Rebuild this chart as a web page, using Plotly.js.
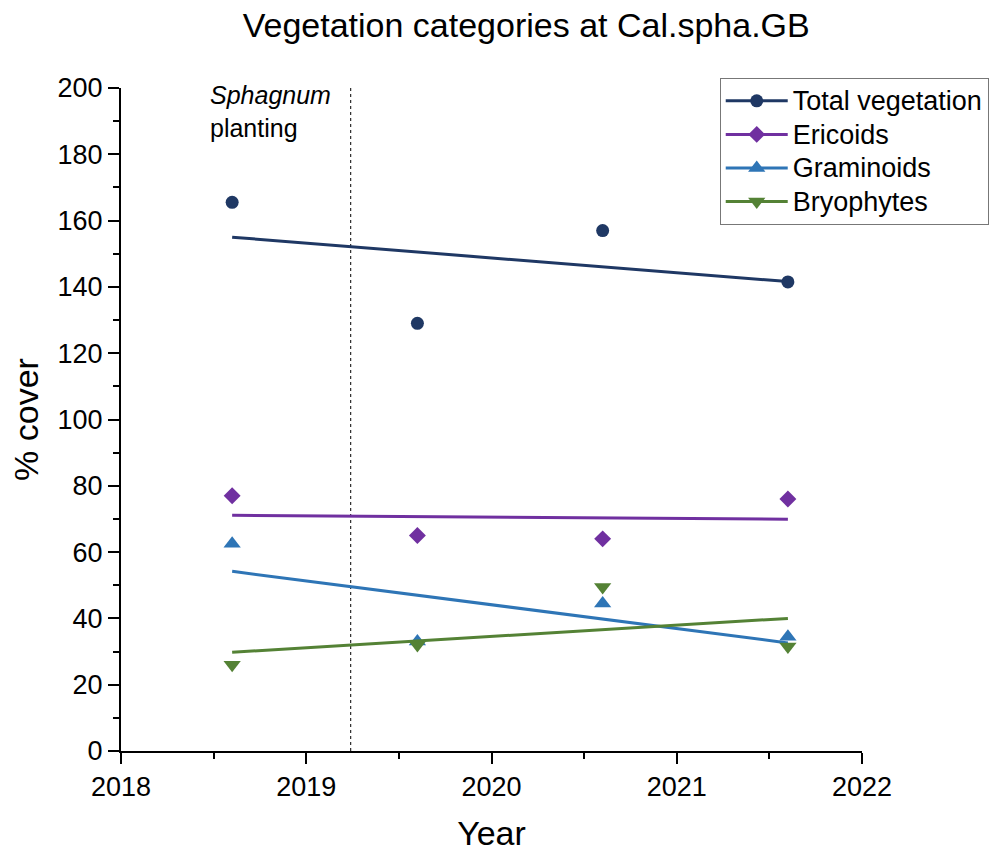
<!DOCTYPE html>
<html>
<head>
<meta charset="utf-8">
<script src="https://cdn.plot.ly/plotly-3.0.1.min.js"></script>
<style>html,body{margin:0;padding:0;background:#fff}#chart{width:991px;height:852px}</style>
</head>
<body>
<div id="chart"></div>
<script>
// Data
const years = [2018.6, 2019.6, 2020.6, 2021.6];
const totalVeg = [165.5, 129, 157, 141.5];
const ericoids = [77, 65, 64, 76];
const graminoids = [62.5, 33, 44.5, 34.5];
const bryophytes = [26, 32, 49.5, 31.5];
// Linear trend end points
const trendX = [2018.6, 2021.6];
const totalTrend = [155, 141.6];
const ericoidsTrend = [71.1, 69.9];
const graminoidsTrend = [54.2, 32.6];
const bryophytesTrend = [29.8, 40];
const plantingYear = 2019.24;
const seriesNames = ['Total vegetation', 'Ericoids', 'Graminoids', 'Bryophytes'];
const xTickVals = [2018, 2019, 2020, 2021, 2022];
const xTickText = ['2018', '2019', '2020', '2021', '2022'];

const colors = ['#1F3864', '#7030A0', '#2E75B6', '#548235'];
const symbols = ['circle', 'diamond', 'triangle-up', 'triangle-down'];
const sizes = [13, 13, 15, 15];
const vals = [totalVeg, ericoids, graminoids, bryophytes];
const trends = [totalTrend, ericoidsTrend, graminoidsTrend, bryophytesTrend];

const traces = [];
traces.push({x:[plantingYear, plantingYear], y:[0, 200], mode:'lines', line:{color:'#000', width:1, dash:'dot'}, showlegend:false, hoverinfo:'skip'});
for (let i = 0; i < 4; i++) {
  traces.push({x: trendX, y: trends[i], mode:'lines', line:{color:colors[i], width:3}, showlegend:false, hoverinfo:'skip'});
  traces.push({x: years, y: vals[i], mode:'markers', marker:{color:colors[i], symbol:symbols[i], size:sizes[i]}, showlegend:false});
  traces.push({x:[null], y:[null], mode:'lines+markers', name: '<span style="font-size:27px">' + seriesNames[i] + '</span>', line:{color:colors[i], width:3}, marker:{color:colors[i], symbol:symbols[i], size:sizes[i]}, showlegend:true});
}

const layout = {
  width: 991, height: 852,
  margin: {l:121, r:129, t:88, b:101, autoexpand:false},
  paper_bgcolor:'#fff', plot_bgcolor:'#fff',
  font: {family:'Arial, Liberation Sans, sans-serif', color:'#000', size:27},
  title: {text:'Vegetation categories at Cal.spha.GB', font:{size:34}, x:0.531, xanchor:'center', xref:'container', y:0.971, yanchor:'middle'},
  showlegend: true,
  legend: {x:0.808, y:1.015, xanchor:'left', yanchor:'top', bordercolor:'#777', borderwidth:1, bgcolor:'#fff', font:{size:23.5}, itemwidth:62, tracegroupgap:0},
  xaxis: {
    range:[2018, 2022], tickvals:xTickVals, ticktext:xTickText,
    showline:true, linecolor:'#000', linewidth:2, ticks:'outside', ticklen:11, tickwidth:2, tickcolor:'#000',
    minor:{dtick:0.5, tick0:2018, ticks:'outside', ticklen:6, tickwidth:2, tickcolor:'#000', showgrid:false},
    showgrid:false, zeroline:false, tickfont:{size:27},
    title:{text:'Year', font:{size:34}, standoff:25}
  },
  yaxis: {
    range:[0, 200], dtick:20, tick0:0,
    showline:true, linecolor:'#000', linewidth:2, ticks:'outside', ticklen:11, tickwidth:2, tickcolor:'#000',
    minor:{dtick:10, tick0:0, ticks:'outside', ticklen:6, tickwidth:2, tickcolor:'#000', showgrid:false},
    showgrid:false, zeroline:false, tickfont:{size:27},
    title:{text:'% cover', font:{size:34}, standoff:9}
  },
  annotations: [{
    x: 2018.47, y: 1.014, xref:'x', yref:'paper', xanchor:'left', yanchor:'top', align:'left', showarrow:false,
    text:'<i>Sphagnum</i><br>planting', font:{size:25}
  }]
};

Plotly.newPlot('chart', traces, layout, {displayModeBar:false, staticPlot:true});
</script>
</body>
</html>
